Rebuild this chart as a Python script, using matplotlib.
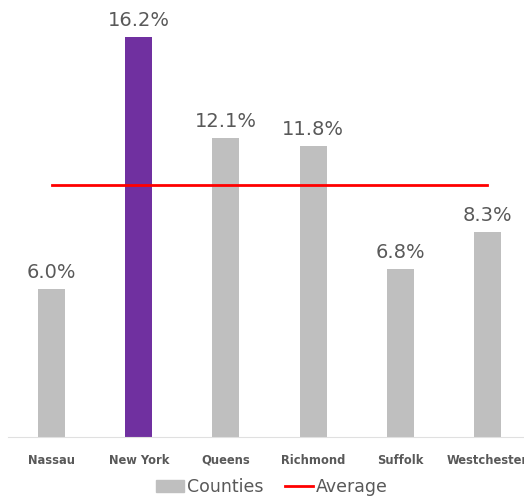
import matplotlib
matplotlib.use("Agg")
import matplotlib.pyplot as plt
import numpy as np
from matplotlib.patches import Patch
from matplotlib.lines import Line2D

counties = ["Nassau", "New York", "Queens", "Richmond", "Suffolk", "Westchester"]
rates = [6.0, 16.2, 12.1, 11.8, 6.8, 8.3]
highlight = "New York"

grey = "#BFBFBF"
purple = "#7030A0"
red = "#FF0000"
txt = "#595959"

plt.rcParams["font.family"] = ["DejaVu Sans"]

fig = plt.figure(figsize=(5.24, 4.97), dpi=100)
ax = fig.add_axes([8/524, 60/497, 523/524, 437/497])

x = np.arange(len(counties))
colors = [purple if c == highlight else grey for c in counties]
bars = ax.bar(x, rates, width=0.31, color=colors, zorder=2)

avg = np.mean(rates)
ax.plot([x[0], x[-1]], [avg, avg], color=red, lw=2, zorder=3)

for b, v in zip(bars, rates):
    ax.annotate(f"{v:.1f}%", (b.get_x() + b.get_width()/2, v),
                xytext=(0, 5), textcoords="offset points",
                ha="center", va="bottom", fontsize=14, color=txt)

ax.set_xlim(-0.5, len(counties) - 0.5)
ax.set_ylim(0, 17.7)
ax.set_xticks(x)
ax.set_xticklabels(counties, fontsize=8.3, color=txt, fontweight="bold")
ax.tick_params(axis="x", length=0, pad=12)
ax.set_yticks([])
for s in ["top", "right", "left"]:
    ax.spines[s].set_visible(False)
ax.spines["bottom"].set_color("#E0E0E0")

handles = [Patch(color=grey, label="Counties"),
           Line2D([0], [0], color=red, lw=2, label="Average")]
fig.legend(handles=handles, loc="center", bbox_to_anchor=(272/524, 1 - 487/497),
           ncol=2, frameon=False, fontsize=12.5, labelcolor=txt,
           handlelength=1.6, handletextpad=0.2, columnspacing=1.2)

fig.savefig("out.png", dpi=100)
